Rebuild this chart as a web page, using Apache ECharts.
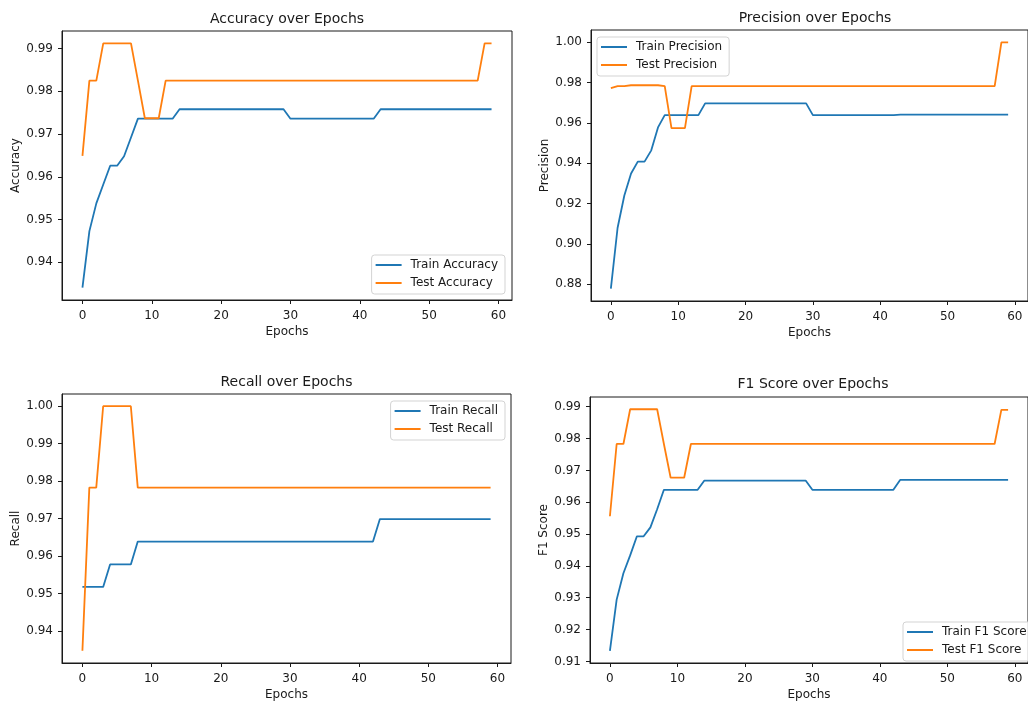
<!DOCTYPE html>
<html>
<head>
<meta charset="utf-8">
<script src="https://cdn.jsdelivr.net/npm/echarts@6.0.0/dist/echarts.min.js"></script>
<style>
  html, body { margin: 0; padding: 0; background: #fff; }
  #chart { width: 1028px; height: 702px; }
</style>
</head>
<body>
<div id="chart"></div>
<script>
// Epoch index (x values)
const epochs = [
  0, 1, 2, 3, 4, 5, 6, 7, 8, 9,
  10, 11, 12, 13, 14, 15, 16, 17, 18, 19,
  20, 21, 22, 23, 24, 25, 26, 27, 28, 29,
  30, 31, 32, 33, 34, 35, 36, 37, 38, 39,
  40, 41, 42, 43, 44, 45, 46, 47, 48, 49,
  50, 51, 52, 53, 54, 55, 56, 57, 58, 59
];

// Accuracy
const trainAcc = [
  0.9341, 0.9473, 0.9538, 0.9582, 0.9626, 0.9626, 0.9648, 0.9692, 0.9736, 0.9736,
  0.9736, 0.9736, 0.9736, 0.9736, 0.9758, 0.9758, 0.9758, 0.9758, 0.9758, 0.9758,
  0.9758, 0.9758, 0.9758, 0.9758, 0.9758, 0.9758, 0.9758, 0.9758, 0.9758, 0.9758,
  0.9736, 0.9736, 0.9736, 0.9736, 0.9736, 0.9736, 0.9736, 0.9736, 0.9736, 0.9736,
  0.9736, 0.9736, 0.9736, 0.9758, 0.9758, 0.9758, 0.9758, 0.9758, 0.9758, 0.9758,
  0.9758, 0.9758, 0.9758, 0.9758, 0.9758, 0.9758, 0.9758, 0.9758, 0.9758, 0.9758
];
const testAcc = [
  0.9649, 0.9825, 0.9825, 0.9912, 0.9912, 0.9912, 0.9912, 0.9912, 0.9825, 0.9737,
  0.9737, 0.9737, 0.9825, 0.9825, 0.9825, 0.9825, 0.9825, 0.9825, 0.9825, 0.9825,
  0.9825, 0.9825, 0.9825, 0.9825, 0.9825, 0.9825, 0.9825, 0.9825, 0.9825, 0.9825,
  0.9825, 0.9825, 0.9825, 0.9825, 0.9825, 0.9825, 0.9825, 0.9825, 0.9825, 0.9825,
  0.9825, 0.9825, 0.9825, 0.9825, 0.9825, 0.9825, 0.9825, 0.9825, 0.9825, 0.9825,
  0.9825, 0.9825, 0.9825, 0.9825, 0.9825, 0.9825, 0.9825, 0.9825, 0.9912, 0.9912
];

// Precision
const trainPrec = [
  0.8778, 0.9080, 0.9240, 0.9349, 0.9408, 0.9408, 0.9464, 0.9578, 0.9639, 0.9639,
  0.9639, 0.9639, 0.9639, 0.9639, 0.9697, 0.9697, 0.9697, 0.9697, 0.9697, 0.9697,
  0.9697, 0.9697, 0.9697, 0.9697, 0.9697, 0.9697, 0.9697, 0.9697, 0.9697, 0.9697,
  0.9639, 0.9639, 0.9639, 0.9639, 0.9639, 0.9639, 0.9639, 0.9639, 0.9639, 0.9639,
  0.9639, 0.9639, 0.9639, 0.9641, 0.9641, 0.9641, 0.9641, 0.9641, 0.9641, 0.9641,
  0.9641, 0.9641, 0.9641, 0.9641, 0.9641, 0.9641, 0.9641, 0.9641, 0.9641, 0.9641
];
const testPrec = [
  0.9773, 0.9783, 0.9783, 0.9787, 0.9787, 0.9787, 0.9787, 0.9787, 0.9783, 0.9574,
  0.9574, 0.9574, 0.9783, 0.9783, 0.9783, 0.9783, 0.9783, 0.9783, 0.9783, 0.9783,
  0.9783, 0.9783, 0.9783, 0.9783, 0.9783, 0.9783, 0.9783, 0.9783, 0.9783, 0.9783,
  0.9783, 0.9783, 0.9783, 0.9783, 0.9783, 0.9783, 0.9783, 0.9783, 0.9783, 0.9783,
  0.9783, 0.9783, 0.9783, 0.9783, 0.9783, 0.9783, 0.9783, 0.9783, 0.9783, 0.9783,
  0.9783, 0.9783, 0.9783, 0.9783, 0.9783, 0.9783, 0.9783, 0.9783, 1.0000, 1.0000
];

// Recall
const trainRec = [
  0.9518, 0.9518, 0.9518, 0.9518, 0.9578, 0.9578, 0.9578, 0.9578, 0.9639, 0.9639,
  0.9639, 0.9639, 0.9639, 0.9639, 0.9639, 0.9639, 0.9639, 0.9639, 0.9639, 0.9639,
  0.9639, 0.9639, 0.9639, 0.9639, 0.9639, 0.9639, 0.9639, 0.9639, 0.9639, 0.9639,
  0.9639, 0.9639, 0.9639, 0.9639, 0.9639, 0.9639, 0.9639, 0.9639, 0.9639, 0.9639,
  0.9639, 0.9639, 0.9639, 0.9699, 0.9699, 0.9699, 0.9699, 0.9699, 0.9699, 0.9699,
  0.9699, 0.9699, 0.9699, 0.9699, 0.9699, 0.9699, 0.9699, 0.9699, 0.9699, 0.9699
];
const testRec = [
  0.9348, 0.9783, 0.9783, 1.0000, 1.0000, 1.0000, 1.0000, 1.0000, 0.9783, 0.9783,
  0.9783, 0.9783, 0.9783, 0.9783, 0.9783, 0.9783, 0.9783, 0.9783, 0.9783, 0.9783,
  0.9783, 0.9783, 0.9783, 0.9783, 0.9783, 0.9783, 0.9783, 0.9783, 0.9783, 0.9783,
  0.9783, 0.9783, 0.9783, 0.9783, 0.9783, 0.9783, 0.9783, 0.9783, 0.9783, 0.9783,
  0.9783, 0.9783, 0.9783, 0.9783, 0.9783, 0.9783, 0.9783, 0.9783, 0.9783, 0.9783,
  0.9783, 0.9783, 0.9783, 0.9783, 0.9783, 0.9783, 0.9783, 0.9783, 0.9783, 0.9783
];

// F1 score
const trainF1 = [
  0.9133, 0.9294, 0.9377, 0.9433, 0.9493, 0.9493, 0.9521, 0.9578, 0.9639, 0.9639,
  0.9639, 0.9639, 0.9639, 0.9639, 0.9668, 0.9668, 0.9668, 0.9668, 0.9668, 0.9668,
  0.9668, 0.9668, 0.9668, 0.9668, 0.9668, 0.9668, 0.9668, 0.9668, 0.9668, 0.9668,
  0.9639, 0.9639, 0.9639, 0.9639, 0.9639, 0.9639, 0.9639, 0.9639, 0.9639, 0.9639,
  0.9639, 0.9639, 0.9639, 0.9670, 0.9670, 0.9670, 0.9670, 0.9670, 0.9670, 0.9670,
  0.9670, 0.9670, 0.9670, 0.9670, 0.9670, 0.9670, 0.9670, 0.9670, 0.9670, 0.9670
];
const testF1 = [
  0.9556, 0.9783, 0.9783, 0.9892, 0.9892, 0.9892, 0.9892, 0.9892, 0.9783, 0.9677,
  0.9677, 0.9677, 0.9783, 0.9783, 0.9783, 0.9783, 0.9783, 0.9783, 0.9783, 0.9783,
  0.9783, 0.9783, 0.9783, 0.9783, 0.9783, 0.9783, 0.9783, 0.9783, 0.9783, 0.9783,
  0.9783, 0.9783, 0.9783, 0.9783, 0.9783, 0.9783, 0.9783, 0.9783, 0.9783, 0.9783,
  0.9783, 0.9783, 0.9783, 0.9783, 0.9783, 0.9783, 0.9783, 0.9783, 0.9783, 0.9783,
  0.9783, 0.9783, 0.9783, 0.9783, 0.9783, 0.9783, 0.9783, 0.9783, 0.9890, 0.9890
];

// Tick labels
const xTicks = [0, 10, 20, 30, 40, 50, 60];
const accTicks = [0.94, 0.95, 0.96, 0.97, 0.98, 0.99];
const precTicks = [0.88, 0.90, 0.92, 0.94, 0.96, 0.98, 1.00];
const recTicks = [0.94, 0.95, 0.96, 0.97, 0.98, 0.99, 1.00];
const f1Ticks = [0.91, 0.92, 0.93, 0.94, 0.95, 0.96, 0.97, 0.98, 0.99];

const FONT = 'DejaVu Sans';
const INK = '#1a1a1a';
const BLUE = '#1f77b4';
const ORANGE = '#ff7f0e';

const panels = [
  {
    title: 'Accuracy over Epochs', ylabel: 'Accuracy',
    names: ['Train Accuracy', 'Test Accuracy'], train: trainAcc, test: testAcc,
    ticks: accTicks, ymin: 0.9312, ymax: 0.9941,
    grid: { left: 62, top: 31, width: 450, height: 269 }, titleTop: 12,
    legend: { right: 523, bottom: 408 }
  },
  {
    title: 'Precision over Epochs', ylabel: 'Precision',
    names: ['Train Precision', 'Test Precision'], train: trainPrec, test: testPrec,
    ticks: precTicks, ymin: 0.87167, ymax: 1.00611,
    grid: { left: 591, top: 30, width: 448, height: 271 }, titleTop: 11.5,
    legend: { left: 597, top: 37 }
  },
  {
    title: 'Recall over Epochs', ylabel: 'Recall',
    names: ['Train Recall', 'Test Recall'], train: trainRec, test: testRec,
    ticks: recTicks, ymin: 0.93152, ymax: 1.00326,
    grid: { left: 62, top: 394, width: 449, height: 271 }, titleTop: 375.5,
    legend: { right: 523, top: 401 }
  },
  {
    title: 'F1 Score over Epochs', ylabel: 'F1 Score',
    names: ['Train F1 Score', 'Test F1 Score'], train: trainF1, test: testF1,
    ticks: f1Ticks, ymin: 0.9095, ymax: 0.99305,
    grid: { left: 590, top: 397, width: 446, height: 270 }, titleTop: 377,
    legend: { left: 903, top: 622 }
  }
];

const textBase = { fontFamily: FONT, fontSize: 12, color: INK };

const option = {
  animation: false,
  backgroundColor: '#fff',
  title: [], grid: [], xAxis: [], yAxis: [], legend: [], series: []
};

panels.forEach((p, i) => {
  option.grid.push(Object.assign({
    show: true, borderColor: INK, borderWidth: 1, backgroundColor: 'transparent',
    containLabel: false
  }, p.grid));

  option.title.push({
    text: p.title,
    left: p.grid.left + p.grid.width / 2,
    top: p.titleTop,
    textAlign: 'center',
    padding: 0,
    textStyle: { fontFamily: FONT, fontSize: 14, fontWeight: 'normal', color: INK }
  });

  option.xAxis.push({
    type: 'value', gridIndex: i, min: -2.95, max: 61.95,
    name: 'Epochs', nameLocation: 'middle', nameGap: 26, nameTextStyle: textBase,
    axisLine: { show: true, onZero: false, lineStyle: { color: INK, width: 1 } },
    axisTick: { show: true, inside: false, length: 4, customValues: xTicks, lineStyle: { color: INK } },
    axisLabel: Object.assign({ customValues: xTicks, margin: 9.5 }, textBase),
    splitLine: { show: false }
  });

  option.yAxis.push({
    type: 'value', gridIndex: i, min: p.ymin, max: p.ymax,
    name: p.ylabel, nameLocation: 'middle', nameGap: 40, nameTextStyle: textBase,
    axisLine: { show: true, onZero: false, lineStyle: { color: INK, width: 1 } },
    axisTick: { show: true, inside: false, length: 4, customValues: p.ticks, lineStyle: { color: INK } },
    axisLabel: Object.assign({ customValues: p.ticks, margin: 9, formatter: v => v.toFixed(2) }, textBase),
    splitLine: { show: false }
  });

  option.legend.push(Object.assign({
    orient: 'vertical', data: p.names, icon: 'rect', itemWidth: 26, itemHeight: 2, itemGap: 6,
    padding: [4, 7, 5, 4], backgroundColor: 'rgba(255,255,255,0.8)',
    borderColor: '#d3d3d3', borderWidth: 1, borderRadius: 3,
    textStyle: Object.assign({ padding: [0, 0, 0, 4] }, textBase)
  }, p.legend));

  [[p.names[0], p.train, BLUE], [p.names[1], p.test, ORANGE]].forEach(([name, vals, color]) => {
    option.series.push({
      name, type: 'line', xAxisIndex: i, yAxisIndex: i,
      data: epochs.map((e, k) => [e, vals[k]]),
      showSymbol: false, symbol: 'none',
      lineStyle: { color, width: 1.8 }, itemStyle: { color },
      emphasis: { disabled: true }
    });
  });
});

const chart = echarts.init(document.getElementById('chart'), null, { renderer: 'canvas' });
chart.setOption(option);
</script>
</body>
</html>
